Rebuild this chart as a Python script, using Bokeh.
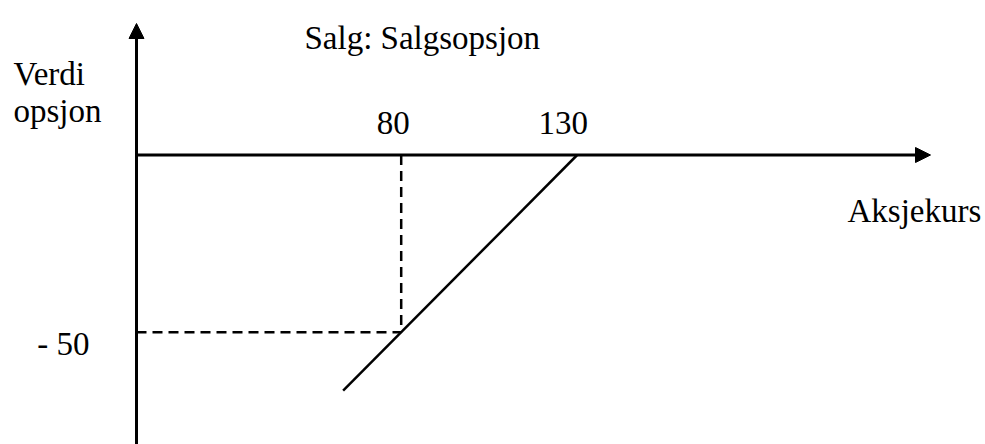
from bokeh.plotting import figure
from bokeh.models import Range1d, Arrow, NormalHead, ColumnDataSource
from bokeh.core.properties import value
from bokeh.embed import file_html
from bokeh.resources import INLINE

# Short put payoff: strike 130, marked point at share price 80 -> value -50
payoff_x = [63.5, 130]
payoff_y = [-66.5, 0]
mark_x = 80
mark_y = -50
x_tick_values = [80, 130]
x_tick_labels = ["80", "130"]
y_tick_values = [-50]
y_tick_labels = ["- 50"]

W, H = 985, 444
XS, YS = 3.52, 3.544          # pixels per unit
X0 = -119.1 / XS              # data x at left edge
Y_TOP = 154.5 / YS            # data y at top edge
AXIS_X = (136 - 119.1) / XS   # where the vertical axis is drawn

def sx(px):
    return X0 + px / XS

def sy(py):
    return Y_TOP - py / YS

p = figure(width=W, height=H, output_backend="svg", toolbar_location=None,
           x_range=Range1d(X0, X0 + W / XS), y_range=Range1d(Y_TOP - H / YS, Y_TOP),
           min_border=0)
p.axis.visible = False
p.grid.visible = False
p.outline_line_color = None
p.background_fill_color = "white"
p.border_fill_color = "white"

FONT = value("'Liberation Serif', 'Times New Roman', serif")
FS = value("33px")

# axes with arrow heads
p.add_layout(Arrow(end=NormalHead(size=15, fill_color="black", line_color="black", line_width=1),
                   x_start=AXIS_X, y_start=sy(446), x_end=AXIS_X, y_end=sy(23),
                   line_width=3, line_color="black"))
p.add_layout(Arrow(end=NormalHead(size=15, fill_color="black", line_color="black", line_width=1),
                   x_start=AXIS_X, y_start=0, x_end=sx(930), y_end=0,
                   line_width=3, line_color="black"))

# dashed guides to the marked point
p.line([mark_x, mark_x], [0, mark_y], line_color="black", line_width=2.5, line_dash="10 6")
p.line([AXIS_X, mark_x], [mark_y, mark_y], line_color="black", line_width=2.5, line_dash="10 6")

# payoff line
p.line(payoff_x, payoff_y, line_color="black", line_width=2.5)

# tick labels
xt = ColumnDataSource(dict(x=x_tick_values, y=[0] * len(x_tick_values), t=x_tick_labels,
                           dx=[-8, -14]))
p.text(x="x", y="y", text="t", x_offset="dx", y_offset=-32.5, source=xt,
       text_font=FONT, text_font_size=FS, text_align="center",
       text_baseline="alphabetic", text_color="black")
yt = ColumnDataSource(dict(x=[AXIS_X] * len(y_tick_values), y=y_tick_values, t=y_tick_labels))
p.text(x="x", y="y", text="t", x_offset=-47, y_offset=11.3, source=yt,
       text_font=FONT, text_font_size=FS, text_align="right",
       text_baseline="alphabetic", text_color="black")

# titles and axis names
names = ColumnDataSource(dict(
    x=[sx(13), sx(13), sx(304), sx(847)],
    y=[sy(73), sy(110), sy(37), sy(210)],
    t=["Verdi", "opsjon", "Salg: Salgsopsjon", "Aksjekurs"],
))
p.text(x="x", y="y", text="t", source=names, text_font=FONT, text_font_size=FS,
       text_align="left", text_baseline="alphabetic", text_color="black")

open("out.html", "w").write(file_html(p, INLINE))
